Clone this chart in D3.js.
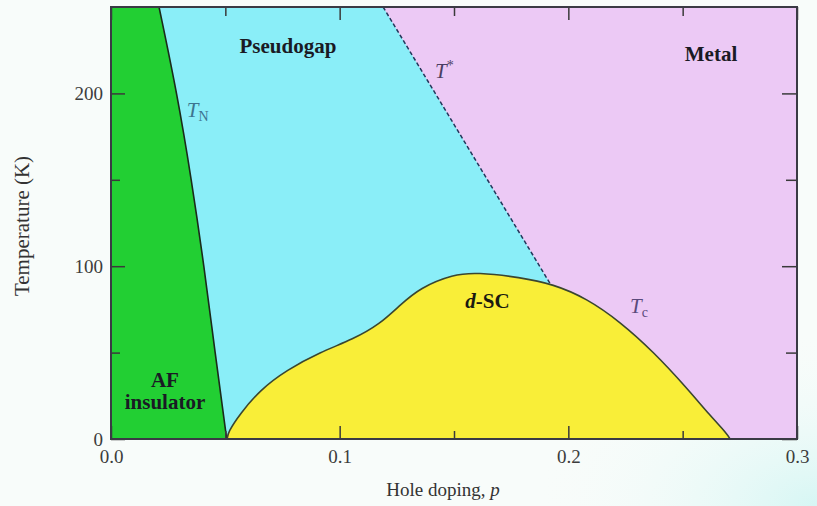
<!DOCTYPE html>
<html>
<head>
<meta charset="utf-8">
<script src="https://cdn.jsdelivr.net/npm/d3@7"></script>
<style>
  html, body { margin: 0; padding: 0; background: #f8fcfa; }
  svg { display: block; }
  text { font-family: "Liberation Serif", "Times New Roman", serif; }
</style>
</head>
<body>
<svg id="chart" width="817" height="506"></svg>
<script>
// Cuprate phase diagram: temperature vs hole doping p
const xMajorTicks = [0, 0.1, 0.2, 0.3];
const xMinorTicks = [0.05, 0.15, 0.25];
const yMajorTicks = [0, 100, 200];
const yMinorTicks = [50, 150];

// Néel temperature boundary T_N (p, T)
const tnP = [0.021, 0.0289, 0.0352, 0.0407, 0.0455, 0.0506];
const tnT = [250, 200, 150, 100, 50, 0];

// Pseudogap crossover T* (dashed), ends on the superconducting dome
const tStarP = [0.119, 0.192];
const tStarT = [250, 90];

// Superconducting dome T_c (p, T)
const tcP = [0.0508, 0.0512, 0.0564, 0.0652, 0.0768, 0.0914, 0.106, 0.1176, 0.1264, 0.1351, 0.1497, 0.16, 0.1789, 0.1934, 0.208, 0.2226, 0.2372, 0.2518, 0.262, 0.2695, 0.2707];
const tcT = [0, 4, 14.5, 28.4, 39.9, 50.2, 57.8, 66.5, 77.5, 87.5, 95.3, 96.4, 93.6, 89.6, 81.4, 67.9, 50.5, 29.6, 13.5, 3, 0];

const svg = d3.select("#chart");
const W = 817, H = 506;
const mLeft = 111, mRight = 797, mTop = 7, mBottom = 439;

const x = d3.scaleLinear().domain([0, 0.3]).range([mLeft, mRight]);
const y = d3.scaleLinear().domain([0, 250]).range([mBottom, mTop]);

// faint tint in the lower right of the page
const defs = svg.append("defs");
const rg = defs.append("radialGradient").attr("id", "tint")
  .attr("cx", "100%").attr("cy", "100%").attr("r", "35%");
rg.append("stop").attr("offset", "0%").attr("stop-color", "#d6f6f4");
rg.append("stop").attr("offset", "100%").attr("stop-color", "#f8fcfa").attr("stop-opacity", 0);
svg.append("rect").attr("width", W).attr("height", H).attr("fill", "url(#tint)");

const tn = tnP.map((p, i) => [p, tnT[i]]);
const tstar = tStarP.map((p, i) => [p, tStarT[i]]);
const tc = tcP.map((p, i) => [p, tcT[i]]);

const curveLine = d3.line().x(d => x(d[0])).y(d => y(d[1])).curve(d3.curveBasis);
const domeLine = d3.line().x(d => x(d[0])).y(d => y(d[1])).curve(d3.curveBasis);
const straight = d3.line().x(d => x(d[0])).y(d => y(d[1]));

const plot = svg.append("g");

// metal background across the whole frame
plot.append("rect")
  .attr("x", x(0)).attr("y", y(250))
  .attr("width", x(0.3) - x(0)).attr("height", y(0) - y(250))
  .attr("fill", "#ecc9f5");

// pseudogap region between T_N and T* (lower part is covered by the dome)
plot.append("path")
  .attr("d", curveLine(tn) +
    "L" + x(tstar[1][0]) + "," + y(0) +
    "L" + x(tstar[1][0]) + "," + y(tstar[1][1]) +
    "L" + x(tstar[0][0]) + "," + y(tstar[0][1]) + "Z")
  .attr("fill", "#8aeef8");

// antiferromagnetic insulator region
plot.append("path")
  .attr("d", curveLine(tn) + "L" + x(0) + "," + y(0) + "L" + x(0) + "," + y(250) + "Z")
  .attr("fill", "#22cf33");

// superconducting dome
plot.append("path")
  .attr("d", domeLine(tc) + "Z")
  .attr("fill", "#f9ee38");

// boundaries
plot.append("path").attr("d", curveLine(tn))
  .attr("fill", "none").attr("stroke", "#1b2a1b").attr("stroke-width", 1.6);
plot.append("path").attr("d", straight(tstar))
  .attr("fill", "none").attr("stroke", "#23365a").attr("stroke-width", 1.5)
  .attr("stroke-dasharray", "4,2.5");
plot.append("path").attr("d", domeLine(tc))
  .attr("fill", "none").attr("stroke", "#3a4630").attr("stroke-width", 1.6);

// axes with inward ticks
const fmtX = d3.format(".1f");
const axisColor = "#3a3a3a";
function styleAxis(g) {
  g.select(".domain").remove();
  g.selectAll("line").attr("stroke", axisColor).attr("stroke-width", 1.5);
  g.selectAll("text").attr("fill", "#3c3c3c").attr("font-size", 19)
    .attr("font-family", "'Liberation Serif', serif");
}
svg.append("g").attr("transform", `translate(0,${mBottom})`)
  .call(d3.axisBottom(x).tickValues(xMajorTicks).tickFormat(fmtX).tickSizeInner(-13).tickSizeOuter(0).tickPadding(11))
  .call(styleAxis);
svg.append("g").attr("transform", `translate(0,${mBottom})`)
  .call(d3.axisBottom(x).tickValues(xMinorTicks).tickFormat("").tickSizeInner(-8).tickSizeOuter(0))
  .call(styleAxis);
svg.append("g").attr("transform", `translate(0,${mTop})`)
  .call(d3.axisTop(x).tickValues(xMajorTicks).tickFormat("").tickSizeInner(-13).tickSizeOuter(0))
  .call(styleAxis);
svg.append("g").attr("transform", `translate(0,${mTop})`)
  .call(d3.axisTop(x).tickValues(xMinorTicks).tickFormat("").tickSizeInner(-9).tickSizeOuter(0))
  .call(styleAxis);
svg.append("g").attr("transform", `translate(${mLeft},0)`)
  .call(d3.axisLeft(y).tickValues(yMajorTicks).tickFormat(d3.format("d")).tickSizeInner(-14).tickSizeOuter(0).tickPadding(8))
  .call(styleAxis);
svg.append("g").attr("transform", `translate(${mLeft},0)`)
  .call(d3.axisLeft(y).tickValues(yMinorTicks).tickFormat("").tickSizeInner(-9).tickSizeOuter(0))
  .call(styleAxis);
svg.append("g").attr("transform", `translate(${mRight},0)`)
  .call(d3.axisRight(y).tickValues(yMajorTicks).tickFormat("").tickSizeInner(-15).tickSizeOuter(0))
  .call(styleAxis);
svg.append("g").attr("transform", `translate(${mRight},0)`)
  .call(d3.axisRight(y).tickValues(yMinorTicks).tickFormat("").tickSizeInner(-11).tickSizeOuter(0))
  .call(styleAxis);

// frame
svg.append("rect")
  .attr("x", mLeft).attr("y", mTop).attr("width", mRight - mLeft).attr("height", mBottom - mTop)
  .attr("fill", "none").attr("stroke", "#3a3a44").attr("stroke-width", 2);

// axis titles
svg.append("text")
  .attr("x", 443).attr("y", 496)
  .attr("text-anchor", "middle").attr("font-size", 19).attr("fill", "#333")
  .call(t => {
    t.append("tspan").text("Hole doping, ");
    t.append("tspan").attr("font-style", "italic").text("p");
  });
svg.append("text")
  .attr("transform", `translate(29,226) rotate(-90)`)
  .attr("text-anchor", "middle").attr("font-size", 21).attr("fill", "#333")
  .text("Temperature (K)");

// region names
const bold = (px, pt, txt) => svg.append("text")
  .attr("x", x(px)).attr("y", y(pt))
  .attr("text-anchor", "middle").attr("font-weight", "bold").attr("font-size", 21)
  .attr("fill", "#1a1a24").text(txt);
bold(0.0774, 223.4, "Pseudogap");
bold(0.2624, 218.8, "Metal");
bold(0.0236, 30.3, "AF");
bold(0.0236, 17.2, "insulator");

svg.append("text")
  .attr("x", x(0.1646)).attr("y", y(76))
  .attr("text-anchor", "middle").attr("font-weight", "bold").attr("font-size", 21)
  .attr("fill", "#1a1a10")
  .call(t => {
    t.append("tspan").attr("font-style", "italic").text("d");
    t.append("tspan").text("-SC");
  });

// line labels
function tLabel(px, pt, sub, sup, color) {
  const t = svg.append("text").attr("x", x(px)).attr("y", y(pt))
    .attr("font-size", 21).attr("fill", color);
  t.append("tspan").attr("font-style", "italic").text("T");
  if (sub) t.append("tspan").attr("font-size", 14).attr("dy", 4).text(sub);
  if (sup) t.append("tspan").attr("font-size", 14).attr("dy", -8).text(sup);
}
tLabel(0.0331, 186.5, "N", null, "#3d7590");
tLabel(0.1417, 208.7, null, "*", "#4a3f62");
tLabel(0.227, 72.9, "c", null, "#5a4a7c");
</script>
</body>
</html>
